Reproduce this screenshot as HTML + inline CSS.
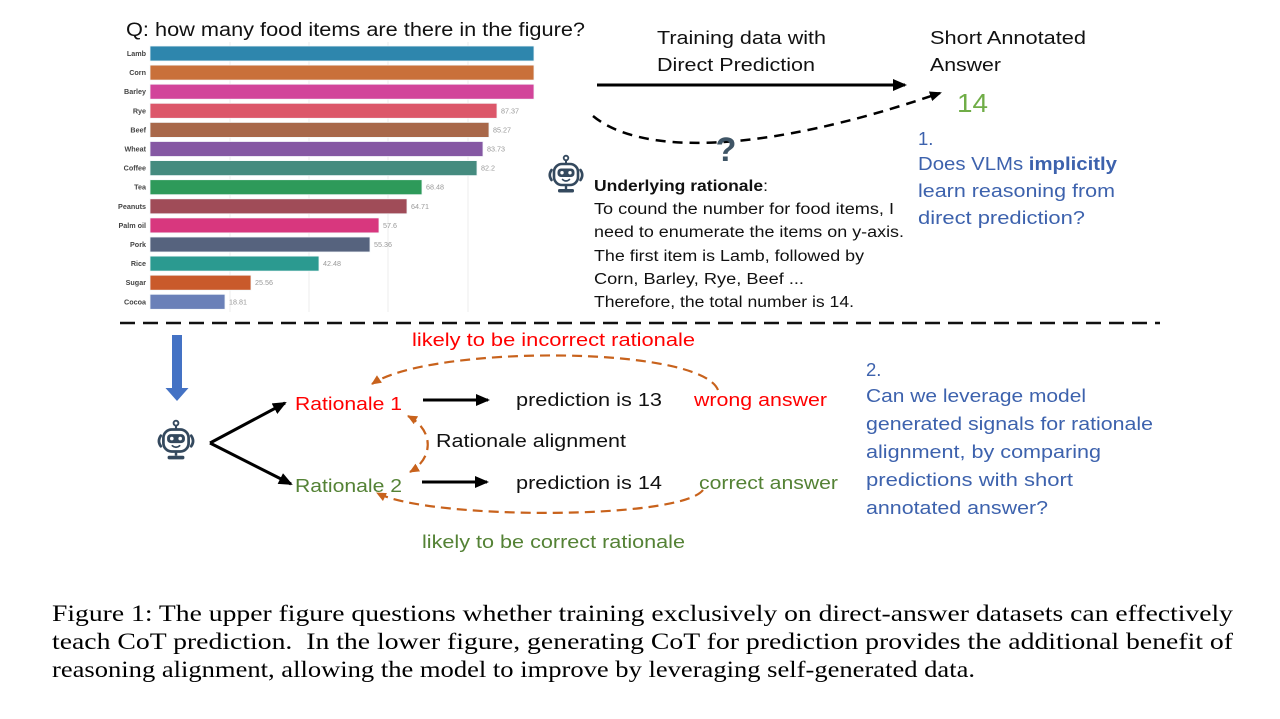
<!DOCTYPE html>
<html><head><meta charset="utf-8">
<style>
html,body{margin:0;padding:0;background:#fff;}
svg{display:block;}
.s{font-family:"Liberation Sans",Arial,sans-serif;}
.c{font-family:"Liberation Serif","Times New Roman",serif;}
</style></head>
<body>
<svg width="1280" height="719" viewBox="0 0 1280 719" xmlns="http://www.w3.org/2000/svg">
<defs>
  <marker id="ab" markerUnits="userSpaceOnUse" markerWidth="14" markerHeight="12" refX="12" refY="6" orient="auto">
    <path d="M0,0 L14,6 L0,12 z" fill="#000"/>
  </marker>
  <marker id="ab2" markerUnits="userSpaceOnUse" markerWidth="12" markerHeight="10" refX="10" refY="5" orient="auto">
    <path d="M0,0 L12,5 L0,10 z" fill="#000"/>
  </marker>
  <marker id="ao" markerUnits="userSpaceOnUse" markerWidth="10" markerHeight="9" refX="9" refY="4.5" orient="auto">
    <path d="M0,0 L10,4.5 L0,9 z" fill="#c8621c"/>
  </marker>
  <marker id="aos" markerUnits="userSpaceOnUse" markerWidth="10" markerHeight="9" refX="9" refY="4.5" orient="auto-start-reverse">
    <path d="M0,0 L10,4.5 L0,9 z" fill="#c8621c"/>
  </marker>
  <g id="robot">
    <circle cx="0" cy="-17" r="2.3" fill="none" stroke="#34495e" stroke-width="1.8"/>
    <line x1="0" y1="-14.7" x2="0" y2="-11" stroke="#34495e" stroke-width="2"/>
    <rect x="-12" y="-11" width="24" height="21" rx="8" fill="none" stroke="#34495e" stroke-width="2.6"/>
    <rect x="-8.5" y="-6.5" width="17" height="8.5" rx="3.5" fill="#34495e"/>
    <circle cx="-4" cy="-2.3" r="1.7" fill="#fff"/>
    <circle cx="4" cy="-2.3" r="1.7" fill="#fff"/>
    <path d="M-3.5,4.5 Q0,7.5 3.5,4.5" fill="none" stroke="#34495e" stroke-width="1.6" stroke-linecap="round"/>
    <path d="M-14.5,-5 Q-18,0 -14.5,5" fill="none" stroke="#34495e" stroke-width="2.6" stroke-linecap="round"/>
    <path d="M14.5,-5 Q18,0 14.5,5" fill="none" stroke="#34495e" stroke-width="2.6" stroke-linecap="round"/>
    <line x1="0" y1="10" x2="0" y2="14" stroke="#34495e" stroke-width="2.4"/>
    <rect x="-8" y="14" width="16" height="3.5" rx="1.5" fill="#34495e"/>
  </g>
</defs>

<!-- Bar chart -->
<g stroke="#ececec" stroke-width="1">
  <line x1="230" y1="42" x2="230" y2="312"/>
  <line x1="309" y1="42" x2="309" y2="312"/>
  <line x1="388" y1="42" x2="388" y2="312"/>
  <line x1="468" y1="42" x2="468" y2="312"/>
</g>
<g stroke="#f4f8fa" stroke-width="0.8">
  <rect x="150" y="46" width="384" height="15" fill="#2e86ad"/>
  <rect x="150" y="65.1" width="384" height="15" fill="#c9703a"/>
  <rect x="150" y="84.2" width="384" height="15" fill="#d2449a"/>
  <rect x="150" y="103.3" width="347" height="15" fill="#dc576a"/>
  <rect x="150" y="122.4" width="339" height="15" fill="#a8684a"/>
  <rect x="150" y="141.5" width="333" height="15" fill="#8558a3"/>
  <rect x="150" y="160.6" width="327" height="15" fill="#458b7f"/>
  <rect x="150" y="179.7" width="272" height="15" fill="#2e9a5a"/>
  <rect x="150" y="198.8" width="257" height="15" fill="#a04c58"/>
  <rect x="150" y="217.9" width="229" height="15" fill="#d8377e"/>
  <rect x="150" y="237" width="220" height="15" fill="#56637e"/>
  <rect x="150" y="256.1" width="169" height="15" fill="#2b9a90"/>
  <rect x="150" y="275.2" width="101" height="15" fill="#c95a2b"/>
  <rect x="150" y="294.3" width="75" height="15" fill="#6a80b8"/>
</g>
<g class="s" font-size="7.2" fill="#444" text-anchor="end" font-weight="bold">
  <text x="146" y="56">Lamb</text>
  <text x="146" y="75.1">Corn</text>
  <text x="146" y="94.2">Barley</text>
  <text x="146" y="113.3">Rye</text>
  <text x="146" y="132.4">Beef</text>
  <text x="146" y="151.5">Wheat</text>
  <text x="146" y="170.6">Coffee</text>
  <text x="146" y="189.7">Tea</text>
  <text x="146" y="208.8">Peanuts</text>
  <text x="146" y="227.9">Palm oil</text>
  <text x="146" y="247">Pork</text>
  <text x="146" y="266.1">Rice</text>
  <text x="146" y="285.2">Sugar</text>
  <text x="146" y="304.3">Cocoa</text>
</g>
<g class="s" font-size="7.2" fill="#999">
  <text x="501" y="113.3">87.37</text>
  <text x="493" y="132.4">85.27</text>
  <text x="487" y="151.5">83.73</text>
  <text x="481" y="170.6">82.2</text>
  <text x="426" y="189.7">68.48</text>
  <text x="411" y="208.8">64.71</text>
  <text x="383" y="227.9">57.6</text>
  <text x="374" y="247">55.36</text>
  <text x="323" y="266.1">42.48</text>
  <text x="255" y="285.2">25.56</text>
  <text x="229" y="304.3">18.81</text>
</g>

<!-- Top texts -->
<g class="s" fill="#111">
  <text x="126" y="36" font-size="19" textLength="459" lengthAdjust="spacingAndGlyphs">Q: how many food items are there in the figure?</text>
  <text x="657" y="44" font-size="18" textLength="169" lengthAdjust="spacingAndGlyphs">Training data with</text>
  <text x="657" y="71" font-size="18" textLength="158" lengthAdjust="spacingAndGlyphs">Direct Prediction</text>
  <text x="930" y="44" font-size="18" textLength="156" lengthAdjust="spacingAndGlyphs">Short Annotated</text>
  <text x="930" y="71" font-size="18" textLength="71" lengthAdjust="spacingAndGlyphs">Answer</text>
</g>
<text class="s" x="957" y="112" font-size="26" fill="#70ad47" textLength="31" lengthAdjust="spacingAndGlyphs">14</text>

<g class="s" fill="#3d62ad" font-size="18.5">
  <text x="918" y="145">1.</text>
  <text x="918" y="170" textLength="199" lengthAdjust="spacingAndGlyphs">Does VLMs <tspan font-weight="bold">implicitly</tspan></text>
  <text x="918" y="197" textLength="197" lengthAdjust="spacingAndGlyphs">learn reasoning from</text>
  <text x="918" y="224" textLength="167" lengthAdjust="spacingAndGlyphs">direct prediction?</text>
</g>

<!-- top arrows -->
<line x1="597" y1="85" x2="905" y2="85" stroke="#000" stroke-width="3" marker-end="url(#ab)"/>
<path d="M593,116 C640,155 760,155 940,93" fill="none" stroke="#000" stroke-width="2.5" stroke-dasharray="10,7" marker-end="url(#ab2)"/>
<text class="s" x="726" y="161" font-size="34" font-weight="bold" fill="#3f5566" text-anchor="middle">?</text>

<!-- robot top -->
<use href="#robot" transform="translate(566,175)"/>

<g class="s" fill="#111" font-size="15.5">
  <text x="594" y="191" font-weight="bold" textLength="174" lengthAdjust="spacingAndGlyphs">Underlying rationale<tspan font-weight="normal">:</tspan></text>
  <text x="594" y="214" textLength="300" lengthAdjust="spacingAndGlyphs">To cound the number for food items, I</text>
  <text x="594" y="237" textLength="310" lengthAdjust="spacingAndGlyphs">need to enumerate the items on y-axis.</text>
  <text x="594" y="261" textLength="270" lengthAdjust="spacingAndGlyphs">The first item is Lamb, followed by</text>
  <text x="594" y="284" textLength="210" lengthAdjust="spacingAndGlyphs">Corn, Barley, Rye, Beef ...</text>
  <text x="594" y="307" textLength="260" lengthAdjust="spacingAndGlyphs">Therefore, the total number is 14.</text>
</g>

<!-- separator -->
<line x1="120" y1="323" x2="1160" y2="323" stroke="#111" stroke-width="2.5" stroke-dasharray="15,8"/>

<!-- lower section -->
<rect x="172" y="335" width="10" height="54" fill="#4472c4"/>
<polygon points="165.5,388 188.5,388 177,401" fill="#4472c4"/>
<use href="#robot" transform="translate(176,441) scale(1.05)"/>

<line x1="210" y1="443" x2="285" y2="403" stroke="#000" stroke-width="3" marker-end="url(#ab)"/>
<line x1="210" y1="443" x2="291" y2="484" stroke="#000" stroke-width="3" marker-end="url(#ab)"/>
<line x1="423" y1="400" x2="488" y2="400" stroke="#000" stroke-width="3" marker-end="url(#ab)"/>
<line x1="422" y1="482" x2="487" y2="482" stroke="#000" stroke-width="3" marker-end="url(#ab)"/>

<g fill="none" stroke="#c8621c" stroke-width="2.2" stroke-dasharray="10,6">
  <path d="M718,390 C700,345 430,345 372,384" marker-end="url(#ao)"/>
  <path d="M408,416 C434,430 434,458 410,472" marker-start="url(#aos)" marker-end="url(#ao)"/>
  <path d="M703,490 C680,520 430,520 377,493" marker-end="url(#ao)"/>
</g>

<g class="s" font-size="18.5">
  <text x="412" y="346" fill="#ff0000" textLength="283" lengthAdjust="spacingAndGlyphs">likely to be incorrect rationale</text>
  <text x="295" y="410" fill="#ff0000" textLength="107" lengthAdjust="spacingAndGlyphs">Rationale 1</text>
  <text x="516" y="406" fill="#111" textLength="146" lengthAdjust="spacingAndGlyphs">prediction is 13</text>
  <text x="694" y="406" fill="#ff0000" textLength="133" lengthAdjust="spacingAndGlyphs">wrong answer</text>
  <text x="436" y="447" fill="#111" textLength="190" lengthAdjust="spacingAndGlyphs">Rationale alignment</text>
  <text x="295" y="492" fill="#548235" textLength="107" lengthAdjust="spacingAndGlyphs">Rationale 2</text>
  <text x="516" y="489" fill="#111" textLength="146" lengthAdjust="spacingAndGlyphs">prediction is 14</text>
  <text x="699" y="489" fill="#548235" textLength="139" lengthAdjust="spacingAndGlyphs">correct answer</text>
  <text x="422" y="548" fill="#548235" textLength="263" lengthAdjust="spacingAndGlyphs">likely to be correct rationale</text>
</g>

<g class="s" fill="#3d62ad" font-size="18.5">
  <text x="866" y="376">2.</text>
  <text x="866" y="402" textLength="220" lengthAdjust="spacingAndGlyphs">Can we leverage model</text>
  <text x="866" y="430" textLength="287" lengthAdjust="spacingAndGlyphs">generated signals for rationale</text>
  <text x="866" y="458" textLength="235" lengthAdjust="spacingAndGlyphs">alignment, by comparing</text>
  <text x="866" y="486" textLength="207" lengthAdjust="spacingAndGlyphs">predictions with short</text>
  <text x="866" y="514" textLength="182" lengthAdjust="spacingAndGlyphs">annotated answer?</text>
</g>

<!-- caption -->
<g class="c" fill="#000" font-size="23.5">
  <text x="52" y="621" textLength="1181" lengthAdjust="spacingAndGlyphs">Figure 1: The upper figure questions whether training exclusively on direct-answer datasets can effectively</text>
  <text x="52" y="649" textLength="1181" lengthAdjust="spacingAndGlyphs" xml:space="preserve">teach CoT prediction.  In the lower figure, generating CoT for prediction provides the additional benefit of</text>
  <text x="52" y="677" textLength="923" lengthAdjust="spacingAndGlyphs">reasoning alignment, allowing the model to improve by leveraging self-generated data.</text>
</g>
</svg>
</body></html>
